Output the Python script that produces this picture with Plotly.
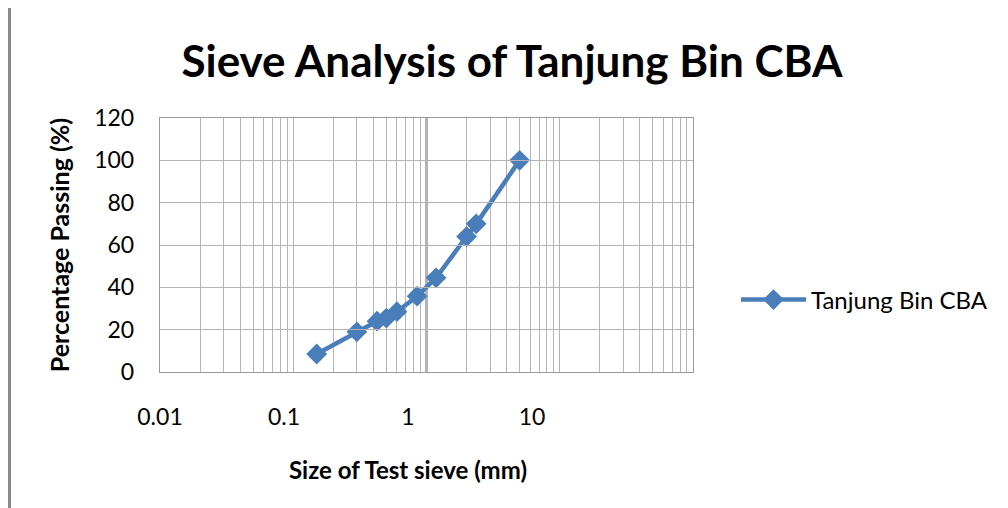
import plotly.graph_objects as go

# Data
sieve_size_mm = [0.15, 0.3, 0.425, 0.5, 0.6, 0.85, 1.18, 2.0, 2.36, 5.0]
percent_passing = [8.5, 19, 24, 25.5, 28.5, 35.8, 44.5, 64, 70, 100]
series_name = "Tanjung Bin CBA"
x_tick_vals = [0.01, 0.1, 1, 10]
x_tick_text = ["0.01", "0.1", "1", "10"]
y_tick_vals = [0, 20, 40, 60, 80, 100, 120]

# log gridlines (1..9 in each decade from 0.01 to 100)
x_grid_vals = [k * 10.0 ** e for e in range(-2, 2) for k in range(1, 10)] + [100.0]

# page body has an 8px margin, so the figure is 1000x500 and positions are shifted by 8
W, H = 1000, 500
OFF = 8
FONT = "Lato"
GRID = "#b4b4b4"
BLUE = "#4a7ebb"

def px_x(p):
    return (p - OFF) / W

def px_y(p):
    return 1 - (p - OFF) / H

fig = go.Figure()
fig.add_trace(go.Scatter(
    x=sieve_size_mm, y=percent_passing, name=series_name,
    mode="lines+markers",
    line=dict(color=BLUE, width=4.5),
    marker=dict(symbol="diamond", size=16, color=BLUE),
))
# invisible copy on the label axis so that axis is drawn
fig.add_trace(go.Scatter(
    x=sieve_size_mm, y=percent_passing, xaxis="x2", yaxis="y",
    mode="none", showlegend=False, hoverinfo="skip",
))

fig.update_layout(
    width=W, height=H,
    margin=dict(l=0, r=0, t=0, b=0, autoexpand=False),
    paper_bgcolor="white", plot_bgcolor="rgba(0,0,0,0)",
    font=dict(family=FONT, color="#000000", size=23),
    title=dict(text="<b>Sieve Analysis of Tanjung Bin CBA</b>",
               x=px_x(512), xanchor="center", y=px_y(62), yanchor="middle",
               font=dict(family=FONT, size=44, color="#000000")),
    xaxis=dict(type="log", range=[-2, 2], domain=[px_x(160), px_x(693)],
               anchor="y", showticklabels=False, ticks="",
               tickmode="array", tickvals=x_grid_vals,
               showgrid=True, gridcolor=GRID, gridwidth=1.4,
               showline=True, linecolor="#9a9a9a", linewidth=1.4, mirror=True),
    xaxis2=dict(type="log", range=[-2, 2], domain=[px_x(160), px_x(656)],
                anchor="y", showgrid=False, showline=False, zeroline=False,
                tickmode="array", tickvals=x_tick_vals, ticktext=x_tick_text,
                ticks="outside", ticklen=24, tickcolor="rgba(0,0,0,0)",
                tickfont=dict(family=FONT, size=23, color="#000000"),
                title=dict(text="<b>Size of Test sieve (mm)</b>", standoff=33,
                           font=dict(family=FONT, size=24, color="#000000"))),
    yaxis=dict(range=[0, 120], domain=[px_y(372), px_y(118)],
               tickmode="array", tickvals=y_tick_vals,
               showgrid=True, gridcolor=GRID, gridwidth=1.4, zeroline=False,
               showline=True, linecolor="#9a9a9a", linewidth=1.4, mirror=True,
               ticks="outside", ticklen=20, tickcolor="rgba(0,0,0,0)",
               tickfont=dict(family=FONT, size=23, color="#000000"),
               title=dict(text="<b>Percentage Passing (%)</b>", standoff=17,
                          font=dict(family=FONT, size=25, color="#000000"))),
    legend=dict(x=px_x(736), y=px_y(300), xanchor="left", yanchor="middle",
                itemwidth=65,
                bgcolor="rgba(0,0,0,0)", font=dict(family=FONT, size=24, color="#000000")),
    showlegend=True,
    shapes=[
        dict(type="line", xref="x", yref="y domain", x0=1, x1=1, y0=0, y1=1,
             line=dict(color="#808080", width=2.2), layer="below"),
        dict(type="line", xref="paper", yref="paper",
             x0=px_x(9.5), x1=px_x(9.5), y0=-0.05, y1=1.05,
             line=dict(color="#8a8a8a", width=3), layer="below"),
    ],
)

fig.write_html("out.html")
